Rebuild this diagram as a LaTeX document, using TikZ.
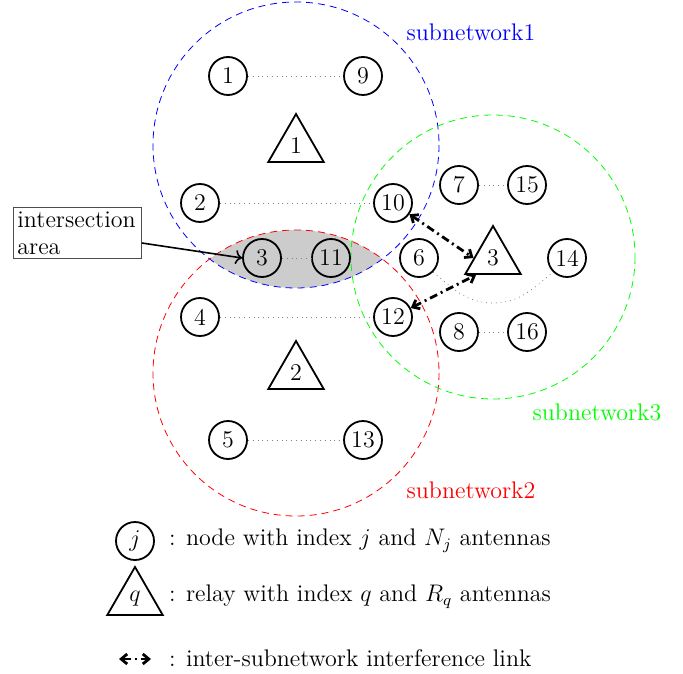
\documentclass[tikz,border=0pt]{standalone}
\usepackage{tikz}
\usetikzlibrary{shapes.geometric,arrows.meta}
\tikzstyle{nd}=[draw=black,circle,line width=0.9pt,minimum size=19pt,inner sep=0pt]
\tikzstyle{rl}=[draw=black,regular polygon,regular polygon sides=3,line width=0.9pt,minimum size=32pt,inner sep=0pt]
\tikzstyle{lnk}=[dotted,gray]
\tikzstyle{intf}=[{Straight Barb[length=3pt,width=5pt]}-{Straight Barb[length=3pt,width=5pt]},line width=1.4pt,dash pattern=on 4pt off 2pt on 1pt off 2pt]
\tikzstyle{net}=[dashed,dash pattern=on 3.5pt off 2.5pt]

\begin{document}
\begin{tikzpicture}[x=0.5pt,y=-0.5pt,font=\fontsize{12}{13.5}\selectfont]
    \useasboundingbox (0,0) rectangle (683,673);
    \begin{scope}
        \clip (296,145) circle[radius=143];
        \fill[gray!40] (296,373) circle[radius=143];
    \end{scope}
    \draw[net,blue] (296,145) circle[radius=143];
    \draw[net,red] (296,373) circle[radius=143];
    \draw[net,green] (493,257) circle[radius=142];
    \node[text=blue] (s1) at (471,32) {subnetwork1};
    \node[text=red] (s2) at (471,490) {subnetwork2};
    \node[text=green] (s3) at (597,412) {subnetwork3};

    \node[nd] (n1) at (228,76) {1};
    \node[nd] (n9) at (363,76) {9};
    \node[rl] (r1) at (296,146) {1};
    \node[nd] (n2) at (200,203) {2};
    \node[nd] (n10) at (393,203) {10};
    \node[nd] (n3) at (262,258) {3};
    \node[nd] (n11) at (331,258) {11};
    \node[nd] (n4) at (200,317) {4};
    \node[nd] (n12) at (393,317) {12};
    \node[rl] (r2) at (296,373) {2};
    \node[nd] (n5) at (228,440) {5};
    \node[nd] (n13) at (363,440) {13};
    \node[nd] (n7) at (459,185) {7};
    \node[nd] (n15) at (527,185) {15};
    \node[nd] (n6) at (419,258) {6};
    \node[rl] (r3) at (493,258) {3};
    \node[nd] (n14) at (567,258) {14};
    \node[nd] (n8) at (459,332) {8};
    \node[nd] (n16) at (527,332) {16};

    \foreach \a/\b in {1/9,2/10,3/11,4/12,5/13,7/15,8/16}
        \draw[lnk] (n\a) -- (n\b);
    \draw[lnk] (n6.south east) to[out=-40,in=180] (493,303) to[out=0,in=-140] (n14.south west);
    \draw[intf] (n10) -- (r3.west);
    \draw[intf] (n12) -- (r3.south west);

    \node[draw=black!70,align=left,anchor=west,inner sep=2pt,text width=60pt] (ia) at (13,233) {intersection\\area};
    \draw[->,line width=0.8pt] ([yshift=-5pt]ia.east) -- (n3.west);

    \node[nd] (lj) at (135,541) {$j$};
    \node[anchor=west] (tj) at (162,541) {: node with index $j$ and $N_j$ antennas};
    \node[rl] (lq) at (135,599) {$q$};
    \node[anchor=west] (tq) at (162,597) {: relay with index $q$ and $R_q$ antennas};
    \coordinate (la) at (119,659);
    \coordinate (lb) at (151,659);
    \draw[intf] (la) -- (lb);
    \node[anchor=west] (ti) at (162,658) {: inter-subnetwork interference link};
\end{tikzpicture}
\end{document}
